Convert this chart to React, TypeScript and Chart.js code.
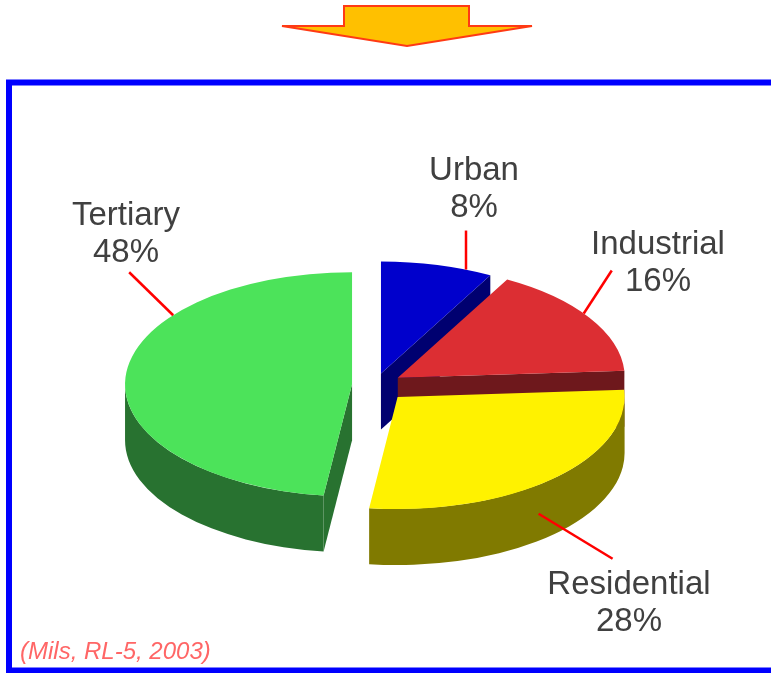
import React, { useEffect, useRef } from "react";
import { Chart, registerables } from "chart.js";

Chart.register(...registerables);

// ---- data ----
const categories = ["Urban", "Industrial", "Residential", "Tertiary"];
const shares = [8, 16, 28, 48];
const citation = "(Mils, RL-5, 2003)";

// ---- style ----
const topColors = ["#0000CC", "#DC2E33", "#FFF200", "#4CE35A"];
const sideColors = ["#000070", "#6E181C", "#807A00", "#287230"];
const explode = [24, 27, 33, 23];
const drawOrder = [0, 1, 3, 2];
const SQUASH = 0.494;
const DEPTH = 56;
const RADIUS = 227;
const W = 771;
const H = 673;

// label placement: anchor angle on the slice rim, drop down the wall, leader vector, text centre / first baseline
const labelPlacement = [
  { deg: -68, drop: 0, line: [0, -39], text: [474, 180] },
  { deg: -35, drop: 0, line: [28, -43], text: [658, 254] },
  { deg: 51.6, drop: 29, line: [74, 45], text: [629, 594] },
  { deg: 218, drop: 0, line: [-44, -43], text: [126, 225] },
];
const LINE_GAP = 37;

function centerY(chart: any) {
  return (chart.chartArea.top + chart.chartArea.bottom) / 2;
}

const threeD = {
  id: "threeD",
  afterDatasetsUpdate(chart: any) {
    const meta = chart.getDatasetMeta(0);
    meta.data.forEach((arc: any, i: number) => {
      const mid = (arc.startAngle + arc.endAngle) / 2;
      arc.x += Math.cos(mid) * explode[i];
      arc.y += Math.sin(mid) * explode[i];
    });
  },
  beforeDatasetsDraw(chart: any) {
    const ctx: CanvasRenderingContext2D = chart.ctx;
    const meta = chart.getDatasetMeta(0);
    const cy = centerY(chart);
    for (const i of drawOrder) {
      const arc = meta.data[i];
      const { x, y, startAngle, endAngle, outerRadius } = arc;
      const sx = x;
      const sy = cy + (y - cy) * SQUASH;
      const rx = outerRadius;
      const ry = outerRadius * SQUASH;
      const pt = (a: number) => [sx + rx * Math.cos(a), sy + ry * Math.sin(a)];
      ctx.save();
      ctx.fillStyle = sideColors[i];
      const faces: number[] = [];
      if (Math.cos(startAngle) < -1e-6) faces.push(startAngle);
      if (Math.cos(endAngle) > 1e-6) faces.push(endAngle);
      for (const a of faces) {
        const [px, py] = pt(a);
        ctx.beginPath();
        ctx.moveTo(sx, sy);
        ctx.lineTo(px, py);
        ctx.lineTo(px, py + DEPTH);
        ctx.lineTo(sx, sy + DEPTH);
        ctx.closePath();
        ctx.fill();
      }
      const a0 = Math.max(startAngle, 0);
      const a1 = Math.min(endAngle, Math.PI);
      if (a1 > a0) {
        ctx.beginPath();
        ctx.ellipse(sx, sy, rx, ry, 0, a0, a1, false);
        ctx.ellipse(sx, sy + DEPTH, rx, ry, 0, a1, a0, true);
        ctx.closePath();
        ctx.fill();
      }
      ctx.restore();
      ctx.save();
      ctx.translate(0, cy * (1 - SQUASH));
      ctx.scale(1, SQUASH);
      arc.draw(ctx);
      ctx.restore();
    }
    return false;
  },
  afterDraw(chart: any) {
    const ctx: CanvasRenderingContext2D = chart.ctx;
    const meta = chart.getDatasetMeta(0);
    const cy = centerY(chart);
    ctx.save();
    // labels
    meta.data.forEach((arc: any, i: number) => {
      const p = labelPlacement[i];
      const a = (p.deg * Math.PI) / 180;
      const sx = arc.x;
      const sy = cy + (arc.y - cy) * SQUASH;
      const ax = sx + arc.outerRadius * Math.cos(a);
      const ay = sy + arc.outerRadius * SQUASH * Math.sin(a) + p.drop;
      ctx.strokeStyle = "#FF0000";
      ctx.lineWidth = 2.5;
      ctx.beginPath();
      ctx.moveTo(ax, ay);
      ctx.lineTo(ax + p.line[0], ay + p.line[1]);
      ctx.stroke();
      ctx.fillStyle = "#404040";
      ctx.font = "33px 'Liberation Sans', Arial, sans-serif";
      ctx.textAlign = "center";
      ctx.textBaseline = "alphabetic";
      ctx.fillText(categories[i], p.text[0], p.text[1]);
      ctx.fillText(shares[i] + "%", p.text[0], p.text[1] + LINE_GAP);
    });
    // frame
    ctx.strokeStyle = "#0000FF";
    ctx.lineWidth = 6;
    ctx.strokeRect(9, 82.5, 820, 588);
    // citation
    ctx.fillStyle = "#FF6666";
    ctx.font = "italic 24px 'Liberation Sans', Arial, sans-serif";
    ctx.textAlign = "left";
    ctx.fillText(citation, 20, 659);
    // arrow
    ctx.beginPath();
    ctx.moveTo(344, 6);
    ctx.lineTo(469, 6);
    ctx.lineTo(469, 26);
    ctx.lineTo(532, 26);
    ctx.lineTo(407, 46);
    ctx.lineTo(282, 26);
    ctx.lineTo(344, 26);
    ctx.closePath();
    ctx.fillStyle = "#FFC000";
    ctx.fill();
    ctx.strokeStyle = "#FF3A14";
    ctx.lineWidth = 2;
    ctx.lineJoin = "miter";
    ctx.stroke();
    ctx.restore();
  },
};

export default function App() {
  const ref = useRef<HTMLCanvasElement>(null);
  useEffect(() => {
    if (!ref.current) return;
    const chart = new Chart(ref.current, {
      type: "pie",
      data: {
        labels: categories,
        datasets: [
          {
            data: shares,
            backgroundColor: topColors,
            borderWidth: 0,
            radius: RADIUS,
            hoverOffset: 0,
          } as any,
        ],
      },
      options: {
        responsive: false,
        animation: false,
        devicePixelRatio: 1,
        events: [],
        layout: { padding: { left: 0, right: 21, top: 97, bottom: 0 } },
        plugins: { legend: { display: false }, tooltip: { enabled: false } },
      },
      plugins: [threeD],
    });
    return () => chart.destroy();
  }, []);
  return (
    <div style={{ position: "absolute", left: 0, top: 0, width: W, height: H, background: "#fff" }}>
      <canvas ref={ref} width={W} height={H} style={{ width: W, height: H, display: "block" }} />
    </div>
  );
}
